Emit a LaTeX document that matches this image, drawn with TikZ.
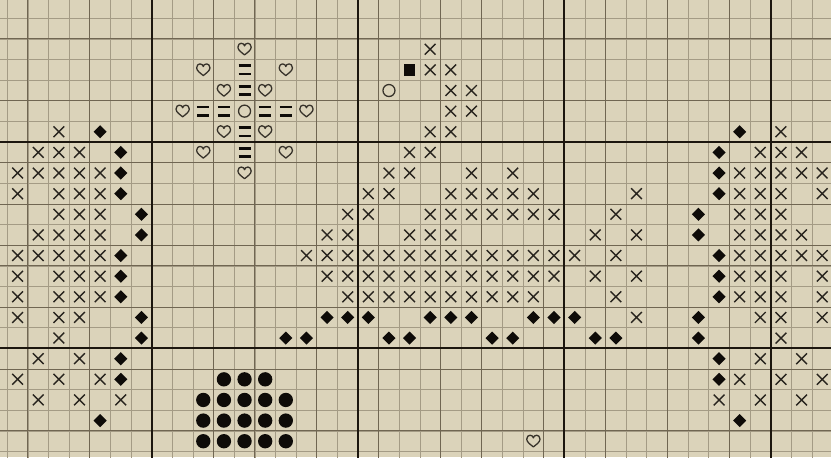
\documentclass[tikz,border=0pt]{standalone}
\usepackage{tikz}
\usetikzlibrary{shapes.geometric, shapes.misc}
\definecolor{chartbg}{RGB}{219, 211, 186}
\definecolor{gridthin}{RGB}{164, 155, 133}
\definecolor{gridmid}{RGB}{112, 102, 82}
\definecolor{gridthick}{RGB}{28, 22, 14}
\definecolor{stitchink}{RGB}{14, 11, 8}
\definecolor{crossink}{RGB}{40, 36, 30}
\definecolor{ringink}{RGB}{55, 50, 42}
\tikzset{
    thingrid/.style={draw=gridthin, line width=0.6pt},
    midgrid/.style={draw=gridmid, line width=0.8pt},
    thickgrid/.style={draw=gridthick, line width=1.6pt},
    xstitch/.style={cross out, draw=crossink, line width=1.2pt, minimum size=0.28cm, inner sep=0pt},
    dmdstitch/.style={diamond, fill=stitchink, minimum size=0.40cm, inner sep=0pt},
    beadstitch/.style={circle, fill=stitchink, minimum size=0.43cm, inner sep=0pt},
    blockstitch/.style={rectangle, fill=stitchink, minimum size=0.35cm, inner sep=0pt},
    ringstitch/.style={circle, draw=ringink, line width=1.1pt, minimum size=0.36cm, inner sep=0pt},
    heartline/.style={draw=ringink, line width=1.1pt, line join=round},
    barline/.style={draw=stitchink, line width=2.2pt},
    heartstitch/.pic={
        \draw[heartline] (0cm,-0.17cm) .. controls (-0.07cm,-0.11cm) and (-0.2cm,-0.03cm) .. (-0.2cm,0.06cm)
            .. controls (-0.2cm,0.14cm) and (-0.145cm,0.18cm) .. (-0.1cm,0.18cm)
            .. controls (-0.045cm,0.18cm) and (0cm,0.14cm) .. (0cm,0.1cm)
            .. controls (0cm,0.14cm) and (0.045cm,0.18cm) .. (0.1cm,0.18cm)
            .. controls (0.145cm,0.18cm) and (0.2cm,0.14cm) .. (0.2cm,0.06cm)
            .. controls (0.2cm,-0.03cm) and (0.07cm,-0.11cm) .. cycle;
    },
    barstitch/.pic={
        \draw[barline] (-0.18cm,0.125cm) -- (0.18cm,0.125cm)
                       (-0.18cm,-0.125cm) -- (0.18cm,-0.125cm);
    },
}

\begin{document}
\begin{tikzpicture}[x=0.6189cm, y=-0.6189cm]
    \useasboundingbox (-0.3539,-0.8871) rectangle (39.927,21.265);
    \fill[chartbg] (-0.3539,-0.8871) rectangle (39.927,21.265);
    \clip (-0.3539,-0.8871) rectangle (39.927,21.265);

    \foreach \c in {0,...,40} \draw[thingrid] (\c,-1) -- (\c,22);
    \foreach \r in {0,...,21} \draw[thingrid] (-1,\r) -- (41,\r);
    \foreach \c in {1,4,10,12,15,18,21,23,26,29,32,35} \draw[midgrid] (\c,-1) -- (\c,22);
    \foreach \r in {1,4,7,9,11,12,14,17,20} \draw[midgrid] (-1,\r) -- (41,\r);
    \foreach \c in {7,17,27,37} \draw[thickgrid] (\c,-1) -- (\c,22);
    \foreach \r in {6,16} \draw[thickgrid] (-1,\r) -- (41,\r);

    \foreach \r/\cols in {1/{20}, 2/{20,21}, 3/{21,22}, 4/{21,22}, 5/{2,20,21,37},
            6/{1,2,3,19,20,36,37,38},
            7/{0,1,2,3,4,18,19,22,24,35,36,37,38,39},
            8/{0,2,3,4,17,18,21,22,23,24,25,30,35,36,37,39},
            9/{2,3,4,16,17,20,21,22,23,24,25,26,29,35,36,37},
            10/{1,2,3,4,15,16,19,20,21,28,30,35,36,37,38},
            11/{0,1,2,3,4,14,15,16,17,18,19,20,21,22,23,24,25,26,27,29,35,36,37,38,39},
            12/{0,2,3,4,15,16,17,18,19,20,21,22,23,24,25,26,28,30,35,36,37,39},
            13/{0,2,3,4,16,17,18,19,20,21,22,23,24,25,29,35,36,37,39},
            14/{0,2,3,30,36,37,39}, 15/{2,37}, 16/{1,3,36,38},
            17/{0,2,4,35,37,39}, 18/{1,3,5,34,36,38}}
        \foreach \c in \cols
            \node[xstitch] (x-\c-\r) at (\c+0.5,\r+0.5) {};

    \foreach \r/\cols in {5/{4,35}, 6/{5,34}, 7/{5,34}, 8/{5,34}, 9/{6,33}, 10/{6,33},
            11/{5,34}, 12/{5,34}, 13/{5,34},
            14/{6,15,16,17,20,21,22,25,26,27,33},
            15/{6,13,14,18,19,23,24,28,29,33},
            16/{5,34}, 17/{5,34}, 19/{4,35}}
        \foreach \c in \cols
            \node[dmdstitch] (d-\c-\r) at (\c+0.5,\r+0.5) {};

    \foreach \r/\cols in {17/{10,11,12}, 18/{9,10,11,12,13}, 19/{9,10,11,12,13}, 20/{9,10,11,12,13}}
        \foreach \c in \cols
            \node[beadstitch] (b-\c-\r) at (\c+0.5,\r+0.5) {};

    \foreach \c/\r in {11/1, 9/2, 13/2, 10/3, 12/3, 8/4, 14/4, 10/5, 12/5, 9/6, 13/6, 11/7, 25/20}
        \pic at (\c+0.5,\r+0.5) {heartstitch};
    \foreach \c/\r in {11/2, 11/3, 9/4, 10/4, 12/4, 13/4, 11/5, 11/6}
        \pic at (\c+0.5,\r+0.5) {barstitch};

    \node[ringstitch] (ring-centre) at (11.5,4.5) {};
    \node[ringstitch] (ring-side) at (18.5,3.5) {};
    \node[blockstitch] (block) at (19.5,2.5) {};
\end{tikzpicture}
\end{document}
